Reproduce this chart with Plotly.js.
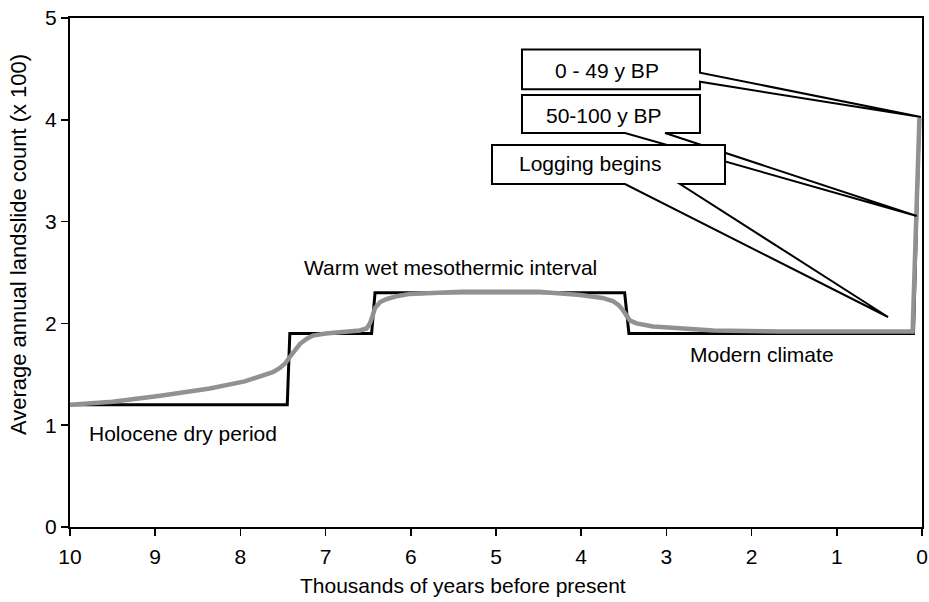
<!DOCTYPE html>
<html>
<head>
<meta charset="utf-8">
<script src="https://cdn.plot.ly/plotly-3.0.1.min.js"></script>
<style>html,body{margin:0;padding:0;background:#fff;}#chart{width:929px;height:602px;}</style>
</head>
<body>
<div id="chart"></div>
<script>
// Step model (black)
const stepX = [10, 7.45, 7.42, 6.46, 6.42, 3.49, 3.44, 0.10, 0.03];
const stepY = [1.2, 1.2, 1.9, 1.9, 2.3, 2.3, 1.9, 1.9, 4.0];
// Smoothed curve (gray)
const smoothX = [10, 9.5, 8.94, 8.36, 7.95, 7.77, 7.62, 7.54, 7.47, 7.42, 7.36, 7.30, 7.22, 7.15, 7.0, 6.87, 6.60, 6.52, 6.48, 6.45, 6.42, 6.36, 6.28, 6.15, 6.01, 5.4, 4.5, 4.01, 3.75, 3.63, 3.56, 3.51, 3.47, 3.43, 3.35, 3.16, 2.8, 2.45, 1.67, 0.11, 0.03];
const smoothY = [1.2, 1.23, 1.29, 1.36, 1.43, 1.48, 1.52, 1.56, 1.61, 1.67, 1.74, 1.80, 1.85, 1.88, 1.90, 1.91, 1.93, 1.95, 2.0, 2.07, 2.15, 2.21, 2.24, 2.27, 2.29, 2.31, 2.31, 2.28, 2.25, 2.22, 2.18, 2.13, 2.08, 2.03, 2.0, 1.97, 1.95, 1.93, 1.92, 1.92, 4.02];
// Axis ticks
const xTicks = [10, 9, 8, 7, 6, 5, 4, 3, 2, 1, 0];
const yTicks = [0, 1, 2, 3, 4, 5];
// Region labels
const labelText = ["Holocene dry period", "Warm wet mesothermic interval", "Modern climate"];
const labelX = [9.80, 5.53, 1.88];
const labelY = [0.92, 2.545, 1.69];
const labelAnchor = ["left", "center", "center"];
// Callout boxes
const calloutText = ["0 - 49 y BP", "50-100 y BP", "Logging begins"];
const calloutTextX = [3.703, 3.732, 3.891];
const calloutTextY = [4.482, 4.047, 3.573];
const calloutPolyX = [
  [4.695, 2.606, 2.606, 0.012, 2.606, 2.606, 4.695],
  [4.695, 2.606, 2.606, 3.016, 0.062, 3.486, 4.695],
  [5.047, 2.312, 2.312, 2.840, 0.399, 3.486, 5.047]
];
const calloutPolyY = [
  [4.69, 4.69, 4.463, 4.027, 4.374, 4.300, 4.300],
  [4.244, 4.244, 3.870, 3.870, 3.055, 3.870, 3.870],
  [3.752, 3.752, 3.369, 3.369, 2.063, 3.369, 3.369]
];

const FONT = "Liberation Sans, Arial, sans-serif";
const FS = 21;

const traces = [
  {x: stepX, y: stepY, mode: "lines", line: {color: "#000", width: 3}, hoverinfo: "skip"},
  {x: smoothX, y: smoothY, mode: "lines", line: {color: "#919191", width: 4.5}, hoverinfo: "skip"}
];

const shapes = calloutPolyX.map((xs, i) => {
  const ys = calloutPolyY[i];
  let p = "M " + xs[0] + "," + ys[0];
  for (let k = 1; k < xs.length; k++) p += " L " + xs[k] + "," + ys[k];
  p += " Z";
  return {type: "path", xref: "x", yref: "y", path: p, fillcolor: "#fff",
          line: {color: "#000", width: 2}, layer: "above"};
});

const annotations = [];
labelText.forEach((t, i) => annotations.push({
  x: labelX[i], y: labelY[i], xref: "x", yref: "y", text: t, showarrow: false,
  xanchor: labelAnchor[i], yanchor: "middle", font: {family: FONT, size: FS, color: "#000"}
}));
calloutText.forEach((t, i) => annotations.push({
  x: calloutTextX[i], y: calloutTextY[i], xref: "x", yref: "y", text: t, showarrow: false,
  xanchor: "center", yanchor: "middle", font: {family: FONT, size: FS, color: "#000"}
}));
annotations.push({x: 0.461, y: -0.114, xref: "paper", yref: "paper", yanchor: "middle",
  text: "Thousands of years before present", showarrow: false, font: {family: FONT, size: FS, color: "#000"}});
annotations.push({x: -0.061, y: 0.554, xref: "paper", yref: "paper", textangle: -90,
  xanchor: "center", yanchor: "middle",
  text: "Average annual landslide count (x 100)", showarrow: false, font: {family: FONT, size: 22, color: "#000"}});

const layout = {
  width: 929, height: 602,
  margin: {l: 70, r: 7, t: 18, b: 75},
  paper_bgcolor: "#fff", plot_bgcolor: "#fff",
  showlegend: false,
  font: {family: FONT, size: FS, color: "#000"},
  xaxis: {range: [10, 0], tickvals: xTicks, ticktext: xTicks.map(String), ticks: "outside",
          ticklen: 7, tickwidth: 1.5, tickcolor: "#000", showline: true, linecolor: "#000",
          linewidth: 2, mirror: true, showgrid: false, zeroline: false, ticklabelstandoff: 3,
          tickfont: {family: FONT, size: FS, color: "#000"}},
  yaxis: {range: [0, 5], tickvals: yTicks, ticktext: yTicks.map(String), ticks: "outside",
          ticklen: 7, tickwidth: 1.5, tickcolor: "#000", showline: true, linecolor: "#000",
          linewidth: 2, mirror: true, showgrid: false, zeroline: false,
          tickfont: {family: FONT, size: FS, color: "#000"}},
  shapes: shapes,
  annotations: annotations
};

Plotly.newPlot("chart", traces, layout, {staticPlot: true, displayModeBar: false});
</script>
</body>
</html>
